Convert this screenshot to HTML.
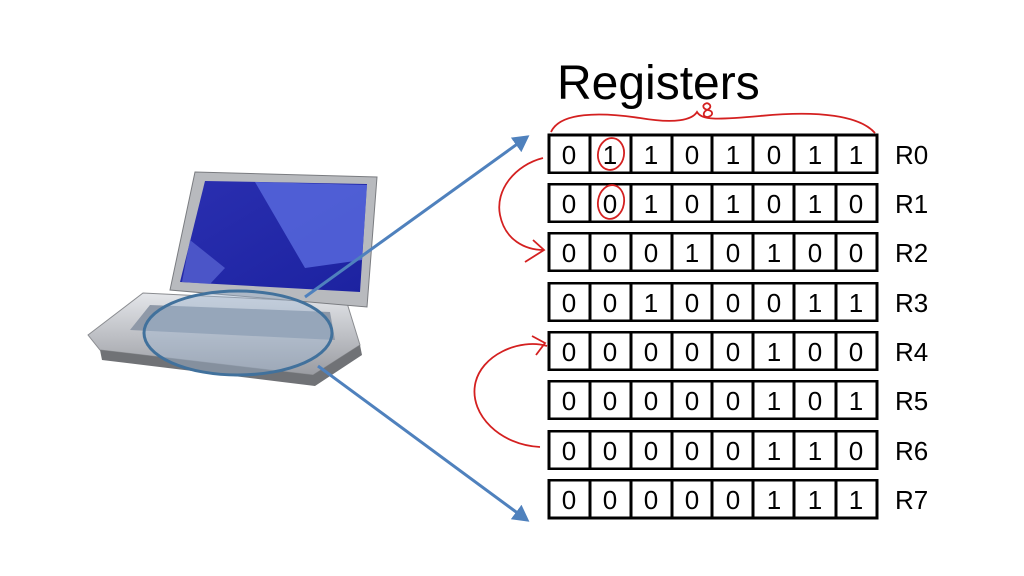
<!DOCTYPE html>
<html><head><style>html,body{margin:0;padding:0;background:#fff;}svg{display:block}</style></head>
<body>
<svg width="1024" height="576" viewBox="0 0 1024 576" xmlns="http://www.w3.org/2000/svg" font-family="Liberation Sans, sans-serif">
<defs>
<linearGradient id="scr" x1="0" y1="0" x2="1" y2="1"><stop offset="0" stop-color="#2a2fb0"/><stop offset="1" stop-color="#1c22a0"/></linearGradient>
<linearGradient id="base" x1="0" y1="0" x2="0" y2="1"><stop offset="0" stop-color="#e4e6ea"/><stop offset="1" stop-color="#9a9ca2"/></linearGradient>
<marker id="ab" markerWidth="6" markerHeight="6" refX="4.5" refY="3" orient="auto" markerUnits="strokeWidth"><path d="M0,0 L5.5,3 L0,6 Z" fill="#4f81bd"/></marker>
</defs>
<rect width="1024" height="576" fill="#fff"/>
<text x="557" y="99" font-size="48" fill="#000">Registers</text>
<!-- laptop -->
<polygon points="88,335 143,293 347,303 360,345 313,375 100,350" fill="url(#base)" stroke="#8a8c90"/>
<polygon points="100,350 313,375 360,345 362,355 315,386 102,360" fill="#707276"/>
<polygon points="150,305 330,312 335,340 130,330" fill="#8f99a8"/>
<polygon points="195,172 377,177 367,307 170,290" fill="#b8babe" stroke="#7a7c80"/>
<polygon points="205,181 367,184 360,292 180,282" fill="url(#scr)"/>
<polygon points="255,182 367,185 362,260 305,268" fill="#5a6be0" opacity="0.8"/>
<polygon points="190,240 225,268 210,284 182,282" fill="#5560d0" opacity="0.8"/>
<ellipse cx="238" cy="333" rx="94" ry="42" fill="#9fb6d0" fill-opacity="0.45" stroke="#41719c" stroke-width="3"/>
<!-- blue arrows -->
<line x1="305" y1="297" x2="527" y2="137" stroke="#4f81bd" stroke-width="3" marker-end="url(#ab)"/>
<line x1="318" y1="366" x2="527" y2="520" stroke="#4f81bd" stroke-width="3" marker-end="url(#ab)"/>
<!-- registers -->
<g stroke="#000" stroke-width="3" fill="#fff">
<rect x="549" y="135" width="328" height="38"/><rect x="549" y="184" width="328" height="38"/>
<rect x="549" y="233" width="328" height="38"/><rect x="549" y="283" width="328" height="38"/>
<rect x="549" y="332" width="328" height="38"/><rect x="549" y="381" width="328" height="38"/>
<rect x="549" y="431" width="328" height="38"/><rect x="549" y="480" width="328" height="38"/>
</g>
<g stroke="#000" stroke-width="3">
<line x1="590" y1="135" x2="590" y2="518"/><line x1="631" y1="135" x2="631" y2="518"/>
<line x1="672" y1="135" x2="672" y2="518"/><line x1="712" y1="135" x2="712" y2="518"/>
<line x1="753" y1="135" x2="753" y2="518"/><line x1="794" y1="135" x2="794" y2="518"/>
<line x1="836" y1="135" x2="836" y2="518"/>
</g>
<rect x="540" y="174" width="345" height="9" fill="#fff"/><rect x="540" y="223" width="345" height="9" fill="#fff"/>
<rect x="540" y="272" width="345" height="10" fill="#fff"/><rect x="540" y="322" width="345" height="9" fill="#fff"/>
<rect x="540" y="371" width="345" height="9" fill="#fff"/><rect x="540" y="420" width="345" height="10" fill="#fff"/>
<rect x="540" y="470" width="345" height="9" fill="#fff"/>
<g font-size="26" text-anchor="middle" fill="#000">
<text y="164"><tspan x="569">0</tspan><tspan x="610">1</tspan><tspan x="651">1</tspan><tspan x="692">0</tspan><tspan x="733">1</tspan><tspan x="774">0</tspan><tspan x="815">1</tspan><tspan x="856">1</tspan></text>
<text y="213"><tspan x="569">0</tspan><tspan x="610">0</tspan><tspan x="651">1</tspan><tspan x="692">0</tspan><tspan x="733">1</tspan><tspan x="774">0</tspan><tspan x="815">1</tspan><tspan x="856">0</tspan></text>
<text y="262"><tspan x="569">0</tspan><tspan x="610">0</tspan><tspan x="651">0</tspan><tspan x="692">1</tspan><tspan x="733">0</tspan><tspan x="774">1</tspan><tspan x="815">0</tspan><tspan x="856">0</tspan></text>
<text y="312"><tspan x="569">0</tspan><tspan x="610">0</tspan><tspan x="651">1</tspan><tspan x="692">0</tspan><tspan x="733">0</tspan><tspan x="774">0</tspan><tspan x="815">1</tspan><tspan x="856">1</tspan></text>
<text y="361"><tspan x="569">0</tspan><tspan x="610">0</tspan><tspan x="651">0</tspan><tspan x="692">0</tspan><tspan x="733">0</tspan><tspan x="774">1</tspan><tspan x="815">0</tspan><tspan x="856">0</tspan></text>
<text y="410"><tspan x="569">0</tspan><tspan x="610">0</tspan><tspan x="651">0</tspan><tspan x="692">0</tspan><tspan x="733">0</tspan><tspan x="774">1</tspan><tspan x="815">0</tspan><tspan x="856">1</tspan></text>
<text y="460"><tspan x="569">0</tspan><tspan x="610">0</tspan><tspan x="651">0</tspan><tspan x="692">0</tspan><tspan x="733">0</tspan><tspan x="774">1</tspan><tspan x="815">1</tspan><tspan x="856">0</tspan></text>
<text y="509"><tspan x="569">0</tspan><tspan x="610">0</tspan><tspan x="651">0</tspan><tspan x="692">0</tspan><tspan x="733">0</tspan><tspan x="774">1</tspan><tspan x="815">1</tspan><tspan x="856">1</tspan></text>
</g>
<g font-size="26" fill="#000">
<text x="895" y="164">R0</text><text x="895" y="213">R1</text><text x="895" y="262">R2</text><text x="895" y="312">R3</text>
<text x="895" y="361">R4</text><text x="895" y="410">R5</text><text x="895" y="460">R6</text><text x="895" y="509">R7</text>
</g>
<!-- red annotations -->
<g fill="none" stroke="#d42020" stroke-width="1.8">
<path d="M551,132 C560,112 600,112 640,118 C675,124 692,120 697,112 C702,120 715,120 760,116 C820,110 860,116 875,133"/>
<path d="M707,103 c-6,2 -4,6 1,7 c5,1 6,5 0,7 c-6,0 -5,-5 -1,-7 c4,-2 5,-5 0,-7"/>
<ellipse cx="611" cy="154" rx="13" ry="16" transform="rotate(10 611 154)"/>
<ellipse cx="611" cy="202" rx="13" ry="17" transform="rotate(10 611 202)"/>
<path d="M543,158 C515,165 495,190 500,215 C505,240 525,250 544,250"/>
<path d="M533,240 L544,250 L525,262"/>
<path d="M547,346 C520,338 480,355 475,385 C470,415 500,445 540,447"/>
<path d="M532,336 L545,343 L536,355"/>
</g>
</svg>
</body></html>
